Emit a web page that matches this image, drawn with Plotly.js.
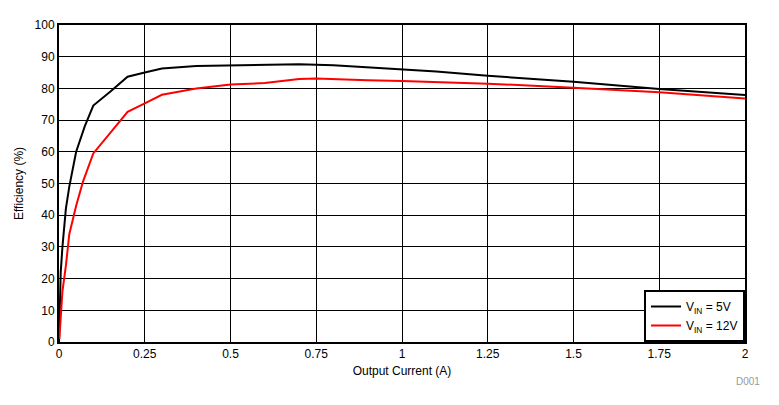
<!DOCTYPE html>
<html><head><meta charset="utf-8">
<script src="https://cdn.plot.ly/plotly-3.0.1.min.js"></script>
<style>body{margin:0;background:#fff}#c{width:779px;height:405px}</style>
</head><body><div id="c"></div>
<script>
var current5 = [0, 0.002, 0.005, 0.01, 0.02, 0.03, 0.05, 0.075, 0.1, 0.15, 0.2, 0.25, 0.3, 0.4, 0.5, 0.6, 0.7, 0.8, 0.9, 1.0, 1.1, 1.25, 1.5, 1.75, 2.0];
var eff5 = [0, 12, 22, 30, 42, 49, 60, 68, 74.6, 79, 83.7, 85, 86.3, 87.1, 87.3, 87.4, 87.6, 87.3, 86.6, 85.9, 85.3, 84.0, 82.1, 79.8, 77.9];
var current12 = [0.001, 0.005, 0.01, 0.02, 0.03, 0.05, 0.07, 0.1, 0.15, 0.2, 0.25, 0.3, 0.4, 0.5, 0.6, 0.7, 0.75, 0.8, 0.9, 1.0, 1.1, 1.25, 1.5, 1.75, 2.0];
var eff12 = [1, 8, 16, 24, 34, 43, 50.6, 59.5, 66, 72.6, 75.3, 78, 80, 81.2, 81.7, 83, 83.1, 83, 82.6, 82.3, 82.0, 81.5, 80.2, 78.8, 76.8];
var xTicks = [0, 0.25, 0.5, 0.75, 1, 1.25, 1.5, 1.75, 2];
var xTickText = ['0', '0.25', '0.5', '0.75', '1', '1.25', '1.5', '1.75', '2'];
var yTicks = [0, 10, 20, 30, 40, 50, 60, 70, 80, 90, 100];

var traces = [
  {x: current5, y: eff5, name: 'V<sub>IN</sub> = 5V', mode: 'lines', line: {color: '#000000', width: 2}},
  {x: current12, y: eff12, name: 'V<sub>IN</sub> = 12V', mode: 'lines', line: {color: '#ff0000', width: 2}}
];
var font = {family: 'Liberation Sans, Arial, sans-serif', size: 12, color: '#000'};
var layout = {
  width: 779, height: 405,
  margin: {l: 59, r: 34, t: 25, b: 63, pad: 0},
  paper_bgcolor: '#fff', plot_bgcolor: '#fff',
  font: font,
  showlegend: true,
  xaxis: {
    range: [0, 2], tickvals: xTicks, ticktext: xTickText,
    showgrid: true, gridcolor: '#000', gridwidth: 1,
    showline: true, linecolor: '#000', linewidth: 2, mirror: true,
    zeroline: false, ticks: '', ticklen: 0,
    tickfont: font,
    title: {text: 'Output Current (A)', font: font, standoff: 6}
  },
  yaxis: {
    range: [0, 100], tickvals: yTicks,
    showgrid: true, gridcolor: '#000', gridwidth: 1,
    showline: true, linecolor: '#000', linewidth: 2, mirror: true,
    zeroline: false, ticks: '', ticklen: 0,
    tickfont: font,
    title: {text: 'Efficiency (%)', font: font, standoff: 8}
  },
  legend: {
    x: 1, y: 0, xanchor: 'right', yanchor: 'bottom',
    bgcolor: '#fff', bordercolor: '#000', borderwidth: 2,
    font: {family: 'Liberation Sans, Arial, sans-serif', size: 12, color: '#000'},
    tracegroupgap: 0, itemwidth: 30
  },
  annotations: [{
    text: 'D001', xref: 'paper', yref: 'paper', x: 1.025, y: -0.1,
    xanchor: 'right', yanchor: 'top', showarrow: false,
    font: {family: 'Liberation Sans, Arial, sans-serif', size: 10, color: '#999'}
  }]
};
Plotly.newPlot('c', traces, layout, {displayModeBar: false, staticPlot: true});
</script></body></html>
